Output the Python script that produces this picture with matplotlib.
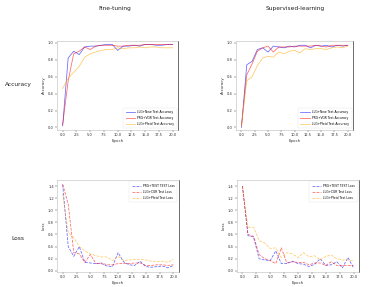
import matplotlib.pyplot as plt

epochs = list(range(21))

# --- accuracy, fine-tuning ---
ft_acc_new = [0.02, 0.82, 0.90, 0.86, 0.95, 0.96, 0.96, 0.97, 0.98, 0.98, 0.91,
              0.96, 0.96, 0.97, 0.96, 0.98, 0.98, 0.97, 0.97, 0.98, 0.98]
ft_acc_prg = [0.03, 0.55, 0.87, 0.90, 0.95, 0.92, 0.96, 0.97, 0.97, 0.97, 0.96,
              0.96, 0.97, 0.97, 0.97, 0.98, 0.98, 0.98, 0.98, 0.98, 0.98]
ft_acc_pf = [0.46, 0.58, 0.65, 0.72, 0.83, 0.87, 0.89, 0.91, 0.92, 0.92, 0.94,
             0.93, 0.94, 0.94, 0.95, 0.94, 0.95, 0.95, 0.94, 0.94, 0.94]

# --- accuracy, supervised ---
sl_acc_new = [0.00, 0.74, 0.78, 0.92, 0.94, 0.89, 0.96, 0.95, 0.94, 0.96, 0.95,
              0.97, 0.97, 0.94, 0.97, 0.96, 0.97, 0.95, 0.97, 0.96, 0.97]
sl_acc_prg = [0.02, 0.62, 0.75, 0.90, 0.94, 0.96, 0.89, 0.95, 0.95, 0.95, 0.96,
              0.96, 0.96, 0.96, 0.97, 0.96, 0.95, 0.97, 0.97, 0.97, 0.97]
sl_acc_pf = [0.02, 0.55, 0.60, 0.73, 0.82, 0.84, 0.83, 0.89, 0.87, 0.90, 0.91,
             0.88, 0.93, 0.92, 0.93, 0.93, 0.92, 0.94, 0.95, 0.94, 0.96]

# --- loss, fine-tuning ---
ft_loss_prg = [1.42, 0.40, 0.24, 0.40, 0.14, 0.13, 0.12, 0.12, 0.08, 0.07, 0.30,
               0.15, 0.10, 0.09, 0.16, 0.07, 0.06, 0.07, 0.08, 0.05, 0.09]
ft_loss_llg = [1.43, 1.10, 0.30, 0.28, 0.14, 0.27, 0.12, 0.13, 0.10, 0.10, 0.12,
               0.12, 0.12, 0.13, 0.13, 0.09, 0.09, 0.10, 0.10, 0.09, 0.10]
ft_loss_pf = [1.27, 0.63, 0.55, 0.40, 0.33, 0.28, 0.25, 0.23, 0.23, 0.17, 0.24,
              0.17, 0.18, 0.19, 0.19, 0.18, 0.16, 0.15, 0.16, 0.14, 0.19]

# --- loss, supervised ---
sl_loss_prg = [1.40, 0.58, 0.56, 0.20, 0.18, 0.17, 0.33, 0.12, 0.12, 0.16, 0.12,
               0.11, 0.07, 0.11, 0.20, 0.09, 0.10, 0.15, 0.05, 0.22, 0.05]
sl_loss_llg = [1.40, 0.60, 0.57, 0.27, 0.20, 0.17, 0.12, 0.38, 0.13, 0.15, 0.14,
               0.14, 0.10, 0.13, 0.13, 0.09, 0.15, 0.09, 0.09, 0.09, 0.09]
sl_loss_pf = [1.38, 0.72, 0.72, 0.50, 0.46, 0.37, 0.38, 0.22, 0.30, 0.28, 0.22,
              0.30, 0.23, 0.25, 0.18, 0.24, 0.26, 0.20, 0.18, 0.18, 0.17]

acc_labels = ['LLG+New Test Accuracy', 'PRG+VGR Test Accuracy', 'LLG+Pfeid Test Accuracy']
loss_labels = ['PRG+TEST TEST Loss', 'LLG+CGR Test Loss', 'LLG+Pfeid Test Loss']
colors = ['blue', 'red', 'orange']

fig = plt.figure(figsize=(3.76, 2.87), dpi=100)

def style(ax, ylabel, yticks):
    for s in ax.spines.values():
        s.set_color('#bbbbbb')
        s.set_linewidth(0.4)
    ax.spines['right'].set_color('#555555')
    ax.spines['right'].set_linewidth(0.6)
    ax.set_xticks([0, 2.5, 5, 7.5, 10, 12.5, 15, 17.5, 20])
    ax.set_xticklabels(['0.0', '2.5', '5.0', '7.5', '10.0', '12.5', '15.0', '17.5', '20.0'])
    ax.set_yticks(yticks)
    ax.set_yticklabels([f'{t:.1f}' for t in yticks])
    ax.tick_params(labelsize=2.6, length=1.2, width=0.3, pad=1.2, colors='#333333')
    ax.set_xlabel('Epoch', fontsize=2.8, labelpad=1, color='#333333')
    ax.set_ylabel(ylabel, fontsize=2.8, labelpad=1.5, color='#333333')
    ax.set_xlim(-1, 21)

def legend(ax, loc):
    lg = ax.legend(loc=loc, fontsize=2.2, frameon=True, edgecolor='#dddddd',
                   handlelength=3, borderpad=0.8, labelspacing=0.6)
    lg.get_frame().set_linewidth(0.3)

acc_ticks = [0.0, 0.2, 0.4, 0.6, 0.8, 1.0]
loss_ticks = [0.0, 0.2, 0.4, 0.6, 0.8, 1.0, 1.2, 1.4]

ax1 = fig.add_axes([0.152, 0.547, 0.322, 0.310])
for ys, lab, c in zip([ft_acc_new, ft_acc_prg, ft_acc_pf], acc_labels, colors):
    ax1.plot(epochs, ys, color=c, lw=0.55, alpha=0.6, label=lab)
style(ax1, 'Accuracy', acc_ticks)
ax1.set_ylim(-0.03, 1.02)
legend(ax1, 'lower right')

ax2 = fig.add_axes([0.628, 0.547, 0.311, 0.310])
for ys, lab, c in zip([sl_acc_new, sl_acc_prg, sl_acc_pf], acc_labels, colors):
    ax2.plot(epochs, ys, color=c, lw=0.55, alpha=0.6, label=lab)
style(ax2, 'Accuracy', acc_ticks)
ax2.set_ylim(-0.03, 1.02)
legend(ax2, 'lower right')

ax3 = fig.add_axes([0.152, 0.052, 0.324, 0.321])
for ys, lab, c in zip([ft_loss_prg, ft_loss_llg, ft_loss_pf], loss_labels, colors):
    ax3.plot(epochs, ys, color=c, lw=0.55, alpha=0.6, ls='--', label=lab)
style(ax3, 'Loss', loss_ticks)
ax3.set_ylim(-0.02, 1.5)
legend(ax3, 'upper right')

ax4 = fig.add_axes([0.630, 0.052, 0.325, 0.321])
for ys, lab, c in zip([sl_loss_prg, sl_loss_llg, sl_loss_pf], loss_labels, colors):
    ax4.plot(epochs, ys, color=c, lw=0.55, alpha=0.6, ls='--', label=lab)
style(ax4, 'Loss', loss_ticks)
ax4.set_ylim(-0.02, 1.5)
legend(ax4, 'upper right')

# column titles and row labels
fig.text(0.306, 0.972, 'Fine-tuning', fontsize=4.2, ha='center', va='center', color='#222222')
fig.text(0.785, 0.972, 'Supervised-learning', fontsize=4.2, ha='center', va='center', color='#222222')
fig.text(0.048, 0.705, 'Accuracy', fontsize=4.2, ha='center', va='center', color='#222222')
fig.text(0.048, 0.17, 'Loss', fontsize=4.2, ha='center', va='center', color='#222222')

plt.savefig('out.png', dpi=100)
